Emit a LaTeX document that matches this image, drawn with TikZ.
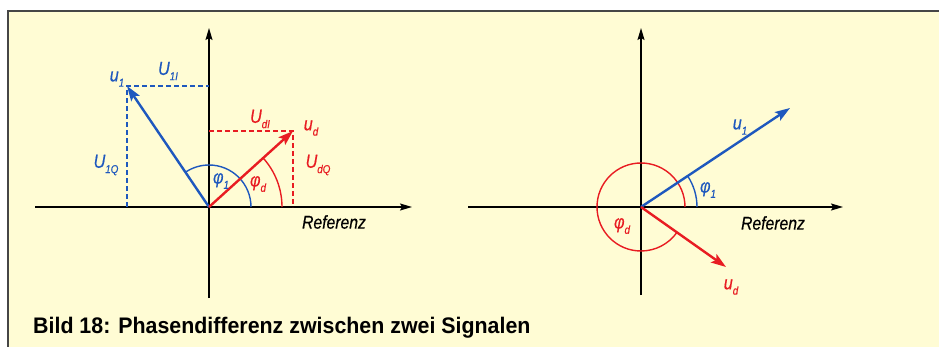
\documentclass[tikz,border=0pt]{standalone}
\usepackage{fontspec}
\setmainfont{Liberation Sans}
\newfontfamily\lab{Liberation Sans}[FakeStretch=0.85,FakeBold=0.4]
\newfontfamily\capfont{Liberation Sans}[FakeStretch=0.95]
\usetikzlibrary{arrows.meta}
\definecolor{bgy}{RGB}{255,252,212}
\definecolor{vblue}{RGB}{30,88,190}
\definecolor{vred}{RGB}{232,28,34}
\definecolor{framegray}{RGB}{70,70,70}
\newcommand{\lsb}[1]{\raisebox{-0.28em}{\fontsize{11.5}{11.5}\selectfont #1}}
\tikzset{
  axis/.style={line width=1.4pt, black, -{Stealth[length=12pt,width=7pt,inset=2pt]}},
  vec/.style={line width=2.4pt, -{Stealth[length=15pt,width=10pt,inset=3pt]}},
  comp/.style={line width=1.4pt, dash pattern=on 5pt off 3pt},
  angarc/.style={line width=1.4pt},
  lbl/.style={font=\lab\itshape\fontsize{19}{19}\selectfont, inner sep=0pt},
  reflbl/.style={font=\lab\itshape\fontsize{18.5}{18.5}\selectfont, inner sep=0pt, black}
}
\begin{document}
\begin{tikzpicture}[x=1pt,y=-1pt]
\useasboundingbox (0,0) rectangle (939,347);
\fill[white] (0,0) rectangle (939,347);
\fill[bgy] (8,11) rectangle (939,347);
\draw[framegray, line width=1.5pt] (8,347) -- (8,11) -- (939,11);

% ---------- left diagram ----------
\coordinate (O1) at (209,207);
\coordinate (L1b) at (209,298);
\coordinate (L1t) at (209,28);
\coordinate (L1l) at (35,207);
\coordinate (L1r) at (412,207);
\coordinate (A1) at (127,86);
\coordinate (A1y) at (209,86);
\coordinate (A1x) at (127,207);
\coordinate (D1) at (293,131);
\coordinate (D1y) at (209,131);
\coordinate (D1x) at (293,207);

\draw[axis] (L1l) -- (L1r);
\draw[axis] (L1b) -- (L1t);

\draw[comp, vblue] (A1x) -- (A1) -- (A1y);
\draw[comp, vred] (D1y) -- (D1) -- (D1x);

\draw[angarc, vblue] (O1) ++(42,0) arc[start angle=0, end angle=-124.1, radius=42];
\draw[angarc, vred] (O1) ++(73,0) arc[start angle=0, end angle=-42.1, radius=73];

\draw[vec, vblue] (O1) -- (A1);
\draw[vec, vred] (O1) -- (D1);

\node[lbl, vblue] (lu1) at (117,79) {u\lsb{1}};
\node[lbl, vblue] (lU1I) at (168,71) {U\lsb{1I}};
\node[lbl, vblue] (lU1Q) at (106,165) {U\lsb{1Q}};
\node[lbl, vblue] (lphi1) at (221,181) {φ\lsb{1}};
\node[lbl, vred] (lphid) at (258,184) {φ\lsb{d}};
\node[lbl, vred] (lUdI) at (260,119) {U\lsb{dI}};
\node[lbl, vred] (lud) at (311,128) {u\lsb{d}};
\node[lbl, vred] (lUdQ) at (318,165) {U\lsb{dQ}};
\node[reflbl] (lref1) at (334,222) {Referenz};

% ---------- right diagram ----------
\coordinate (O2) at (641,207);
\coordinate (L2b) at (641,295);
\coordinate (L2t) at (641,28);
\coordinate (L2l) at (468,207);
\coordinate (L2r) at (843,207);
\coordinate (A2) at (790,108);
\coordinate (D2) at (726,267);

\draw[axis] (L2l) -- (L2r);
\draw[axis] (L2b) -- (L2t);

\draw[angarc, vred] (O2) ++(44,0) arc[start angle=0, end angle=-324.7, radius=44];
\draw[angarc, vblue] (O2) ++(56,0) arc[start angle=0, end angle=-33.6, radius=56];

\draw[vec, vblue] (O2) -- (A2);
\draw[vec, vred] (O2) -- (D2);

\node[lbl, vblue] (ru1) at (740,127) {u\lsb{1}};
\node[lbl, vblue] (rphi1) at (708,190) {φ\lsb{1}};
\node[lbl, vred] (rphid) at (622,226) {φ\lsb{d}};
\node[lbl, vred] (rud) at (731,287) {u\lsb{d}};
\node[reflbl] (lref2) at (773,223) {Referenz};

% ---------- caption ----------
\node[anchor=base west, inner sep=0pt, font=\capfont\bfseries\fontsize{22.5}{22.5}\selectfont] (cap) at (33,333) {Bild 18: Phasendifferenz zwischen zwei Signalen};
\end{tikzpicture}
\end{document}
